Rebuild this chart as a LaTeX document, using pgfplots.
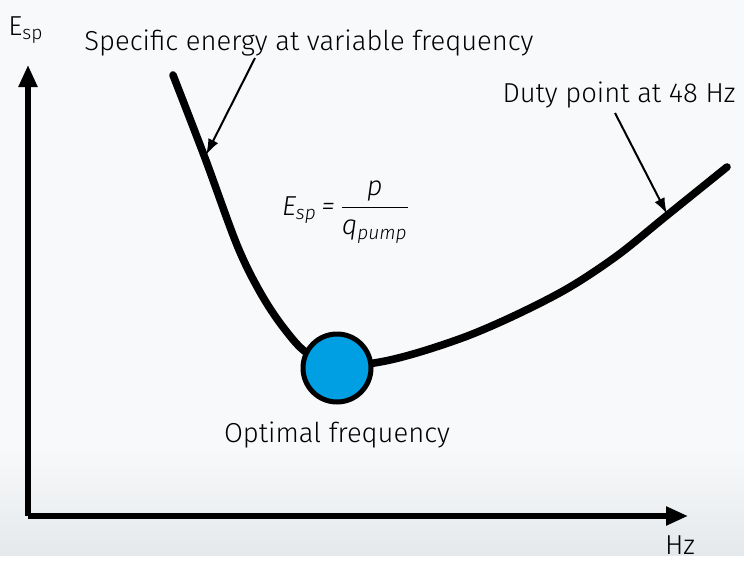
\documentclass[border=0pt]{standalone}
\usepackage{amsmath}
\usepackage{fontspec}
\setmainfont{Fira Sans}[UprightFont={* Light}, ItalicFont={* Light Italic}]
\usepackage{pgfplots}
\pgfplotsset{compat=1.18}
\usetikzlibrary{arrows.meta}
\definecolor{optblue}{HTML}{009FE3}
\definecolor{bgtop}{HTML}{F8F9FA}
\definecolor{bgbot}{HTML}{E5E9EC}

\begin{document}
\begin{tikzpicture}
% 1 px of the reference = 0.5pt; axis box lower left sits at (0,0)
\fill[bgtop] (-14pt,-19.5pt) rectangle (358pt,258pt);
\shade[top color=bgtop, bottom color=bgbot] (-14pt,-19.5pt) rectangle (358pt,35pt);
\begin{axis}[
    scale only axis,
    width=330pt, height=225.5pt,
    xmin=28, xmax=688, ymin=39, ymax=490,
    axis x line=bottom, axis y line=left,
    axis line style={line width=2.6pt, -{Triangle[length=11pt,width=9pt]}},
    ticks=none,
    clip=false,
    font=\fontsize{13.7}{16}\selectfont,
]
\addplot[smooth, tension=0.55, line width=3.8pt, line cap=round] coordinates {
    (173,480) (205,397) (237,310) (260,263) (283,228) (307,202)
    (340,189) (380,193) (420,203) (470,220) (520,242) (570,268) (618,300)
    (665,338) (727,388)
};
\addplot[only marks, mark=*, mark size=17pt,
    mark options={fill=optblue, draw=black, line width=2.5pt}] coordinates {(337,187)};

\draw[-{Latex[length=8pt,width=5.5pt]}, line width=1pt] (axis cs:255,497) -- (axis cs:206,400);
\draw[-{Latex[length=8pt,width=5.5pt]}, line width=1pt] (axis cs:615,442) -- (axis cs:667,341);

\node at (axis cs:309,512) {Specific energy at variable frequency};
\node at (axis cs:619,460) {Duty point at 48 Hz};
\node at (axis cs:337,120) {Optimal frequency};
\node at (axis cs:26,525) {E\textsubscript{sp}};
\node at (axis cs:680,10) {Hz};
\node at (axis cs:346,343) {\itshape E\textsubscript{sp}\,=\,$\dfrac{\mbox{\itshape p}}{\mbox{\itshape q\textsubscript{pump}}}$};
\end{axis}
\end{tikzpicture}
\end{document}
